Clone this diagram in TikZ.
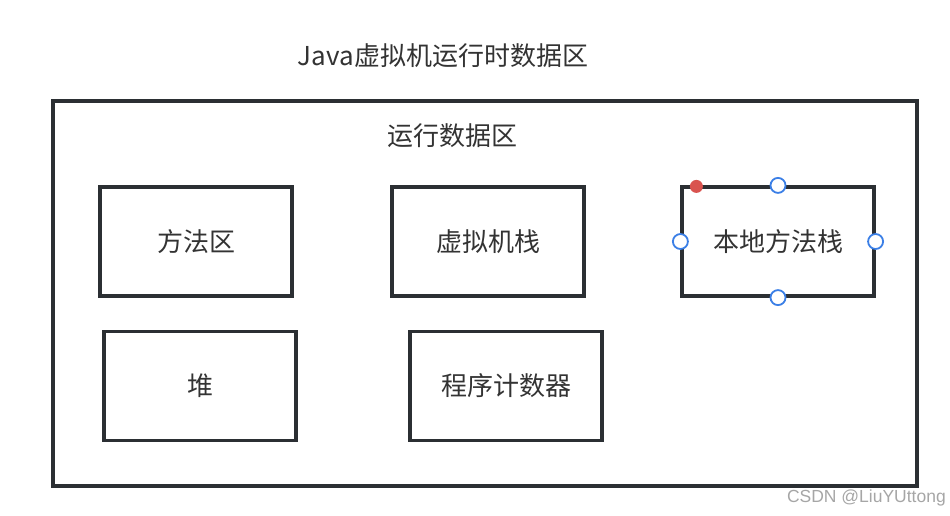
\documentclass[tikz,border=0pt]{standalone}
\usepackage{fontspec}
\setmainfont{Noto Sans CJK SC}
\newfontfamily\wmfont{Liberation Sans}
\definecolor{linec}{HTML}{2B2F33}
\definecolor{txtc}{HTML}{333333}
\definecolor{handleblue}{HTML}{3B7FE6}
\definecolor{handlered}{HTML}{D9534F}
\begin{document}
\begin{tikzpicture}[x=1pt,y=-1pt,
  boxst/.style={draw=linec,line width=3.2pt,minimum width=192pt,minimum height=109pt,inner sep=0pt,
    text=txtc,font=\fontsize{26}{29}\selectfont},
  lbl/.style={text=txtc,font=\fontsize{26}{29}\selectfont,inner sep=0pt},
  handle/.style={circle,draw=handleblue,fill=white,line width=1.8pt,minimum size=15pt,inner sep=0pt},
  reddot/.style={circle,fill=handlered,minimum size=13pt,inner sep=0pt}]
\useasboundingbox (0,0) rectangle (950,516);
\node[lbl] (title) at (443,56) {Java虚拟机运行时数据区};
\node[draw=linec,line width=3.2pt,minimum width=864pt,minimum height=385pt,inner sep=0pt] (outer) at (485,293.5) {};
\node[lbl] (area) at (452,136) {运行数据区};
\node[boxst] (ffq) at (196,241.5) {方法区};
\node[boxst] (xnjz) at (488,241.5) {虚拟机栈};
\node[boxst] (bdffz) at (778,241.5) {本地方法栈};
\node[boxst] (dui) at (200,386) {堆};
\node[boxst] (cxjsq) at (506,386) {程序计数器};
\node[handle] (h1) at (bdffz.north) {};
\node[handle] (h2) at (bdffz.south) {};
\node[handle] (h3) at (bdffz.west) {};
\node[handle] (h4) at (bdffz.east) {};
\node[reddot] (rd) at ([xshift=16pt,yshift=-1pt]bdffz.north west) {};
\node[text=black!35,font=\wmfont\fontsize{17.5}{20}\selectfont,anchor=east,inner sep=0pt] (wm) at (946,498) {CSDN @LiuYUttong};
\end{tikzpicture}
\end{document}
